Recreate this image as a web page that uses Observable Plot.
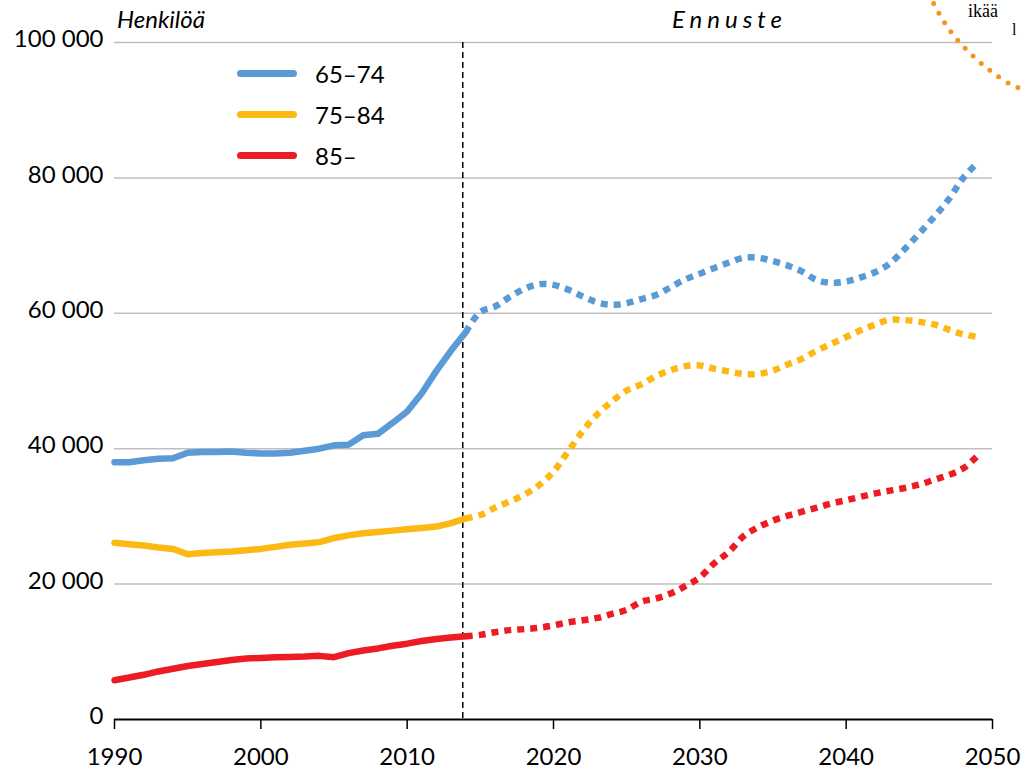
<!DOCTYPE html>
<html>
<head>
<meta charset="utf-8">
<script src="https://cdn.jsdelivr.net/npm/d3@7"></script>
<script src="https://cdn.jsdelivr.net/npm/@observablehq/plot@0.6"></script>
<style>
  html, body { margin: 0; padding: 0; background: #fff; overflow: hidden; }
  #wrap { position: relative; width: 1022px; height: 771px; font-family: Lato, sans-serif; color: #000; }
  .lbl { position: absolute; font-size: 24px; white-space: nowrap; }
  .leg { position: absolute; display: flex; align-items: center; font-size: 24px; }
  .leg .sw { width: 60px; height: 7px; border-radius: 4px; margin-right: 18px; }
</style>
</head>
<body>
<div id="wrap"></div>
<script>
// ---- data ----
const groups = ["65–74", "75–84", "85–"];
const colors = ["#5B9BD5", "#FDB913", "#ED1C24"];

const histYears = d3.range(1990, 2015);
const hist6574 = [38000, 38000, 38300, 38500, 38600, 39400, 39500, 39500, 39600, 39400, 39300, 39300, 39400, 39700, 40000, 40500, 40600, 42000, 42200, 43800, 45500, 48200, 51500, 54500, 57200];
const hist7584 = [26100, 25900, 25700, 25400, 25200, 24400, 24600, 24700, 24800, 25000, 25200, 25500, 25800, 26000, 26200, 26800, 27200, 27500, 27700, 27900, 28100, 28300, 28500, 29000, 29700];
const hist85 = [5800, 6200, 6600, 7100, 7500, 7900, 8200, 8500, 8800, 9000, 9100, 9200, 9250, 9300, 9400, 9200, 9800, 10200, 10500, 10900, 11200, 11600, 11900, 12100, 12300];

const fcYears = d3.range(2014, 2050);
const fc6574 = [57200, 60200, 61000, 62400, 63600, 64300, 64200, 63500, 62500, 61600, 61250, 61500, 62100, 62700, 63850, 65000, 65850, 66700, 67500, 68200, 68200, 67700, 67050, 66150, 64900, 64500, 64700, 65300, 66100, 67400, 69500, 71800, 74200, 76800, 80000, 82300];
const fc7584 = [29700, 30200, 31300, 32200, 33200, 34600, 36600, 39600, 42600, 45100, 47000, 48600, 49500, 50700, 51600, 52200, 52300, 51800, 51400, 51050, 51050, 51550, 52450, 53300, 54500, 55500, 56500, 57500, 58350, 59050, 59000, 58750, 58350, 57600, 56900, 56500];
const fc85 = [12300, 12500, 12900, 13200, 13350, 13550, 13900, 14350, 14650, 15000, 15600, 16200, 17400, 17850, 18600, 19700, 21000, 23100, 24800, 27100, 28400, 29400, 30100, 30700, 31300, 31900, 32400, 32900, 33400, 33800, 34200, 34700, 35400, 36100, 37100, 39000];

// fragment of a neighbouring chart visible in the top-right corner
const strayYears = [2045.98, 2046.8, 2047.76, 2048.85, 2050.01, 2051.24, 2051.93];
const strayValues = [105760, 102660, 100000, 97640, 95570, 93800, 93200];

const forecastStart = 2013.8;
const xTicks = [1990, 2000, 2010, 2020, 2030, 2040, 2050];
const yTicks = [0, 20000, 40000, 60000, 80000, 100000];

// ---- tables ----
const hist = [hist6574, hist7584, hist85].flatMap((vals, i) =>
  vals.map((v, j) => ({year: histYears[j], value: v, group: groups[i]})));
const fc = [fc6574, fc7584, fc85].flatMap((vals, i) =>
  vals.map((v, j) => ({year: fcYears[j], value: v, group: groups[i]})));
const stray = strayYears.map((y, i) => ({year: y, value: strayValues[i]}));

const fmt = d3.formatLocale({thousands: "\u00a0", grouping: [3], decimal: ",", currency: ["", ""]}).format(",");

const chart = Plot.plot({
  width: 1022,
  height: 771,
  marginLeft: 114,
  marginRight: 30,
  marginTop: 42,
  marginBottom: 52,
  x: {domain: [1990, 2050]},
  y: {domain: [0, 100000]},
  color: {domain: groups, range: colors},
  style: {fontFamily: "Lato, sans-serif", fontSize: "24px", color: "#000", background: "transparent", overflow: "visible"},
  marks: [
    Plot.gridY(yTicks.filter(d => d > 0), {stroke: "#bfbfbf", strokeOpacity: 1, strokeWidth: 1.5}),
    Plot.axisY(yTicks, {tickSize: 0, tickPadding: 11, tickFormat: fmt, label: null, fontSize: 24, dy: -3}),
    Plot.axisX(xTicks, {tickSize: 10, tickPadding: 18, tickFormat: d => String(d), label: null, fontSize: 24, strokeWidth: 1.5, strokeOpacity: 1}),
    Plot.ruleY([0], {stroke: "#000", strokeWidth: 2}),
    Plot.ruleX([forecastStart], {stroke: "#000", strokeWidth: 1.5, strokeDasharray: "6,4"}),
    Plot.line(hist, {x: "year", y: "value", z: "group", stroke: "group", strokeWidth: 6.5, strokeLinecap: "round", strokeLinejoin: "round"}),
    Plot.line(fc, {x: "year", y: "value", z: "group", stroke: "group", strokeWidth: 6.5, strokeDasharray: "7,6", strokeLinecap: "butt", curve: "catmull-rom"}),
    Plot.line(stray, {x: "year", y: "value", stroke: "#F7941D", strokeWidth: 5, strokeDasharray: "0,11", strokeLinecap: "round", curve: "catmull-rom"})
  ]
});

const wrap = document.getElementById("wrap");
wrap.appendChild(chart);

function addText(txt, css) {
  const d = document.createElement("div");
  d.className = "lbl";
  d.textContent = txt;
  Object.assign(d.style, css);
  wrap.appendChild(d);
}
addText("Henkilöä", {left: "117px", top: "4px", fontStyle: "italic"});
addText("Ennuste", {left: "672px", top: "4px", fontStyle: "italic", letterSpacing: "5px"});
addText("ikää", {left: "968px", top: "2px", fontFamily: "'Liberation Serif', serif", fontSize: "18px", lineHeight: "18px"});
addText("l", {left: "1012px", top: "22px", fontFamily: "'Liberation Serif', serif", fontSize: "16px", lineHeight: "16px"});

groups.forEach((g, i) => {
  const d = document.createElement("div");
  d.className = "leg";
  d.style.left = "237px";
  d.style.top = (58 + i * 41) + "px";
  d.style.height = "30px";
  const sw = document.createElement("div");
  sw.className = "sw";
  sw.style.background = colors[i];
  const t = document.createElement("span");
  t.textContent = g;
  d.appendChild(sw);
  d.appendChild(t);
  wrap.appendChild(d);
});
</script>
</body>
</html>
